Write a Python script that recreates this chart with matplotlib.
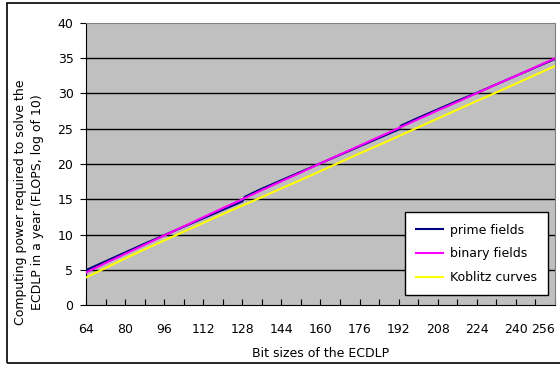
import matplotlib
matplotlib.use('Agg')
from matplotlib import pyplot as plt
from matplotlib.patches import Rectangle

# bit sizes and log10(FLOPS) needed to solve the ECDLP in one year
bits = [64, 72, 80, 88, 96, 104, 112, 120, 128, 136, 144, 152, 160,
        168, 176, 184, 192, 200, 208, 216, 224, 232, 240, 248, 256]
prime_bits = [64, 72, 80, 88, 96, 104, 112, 120, 128, 129, 136, 144, 152, 160,
              168, 176, 184, 192, 193, 200, 208, 216, 224, 232, 240, 248, 256]
prime_fields = [4.95, 6.2, 7.45, 8.7, 9.9, 11.1, 12.3, 13.5, 14.7, 15.35, 16.5, 17.7,
                18.9, 20.1, 21.3, 22.5, 23.7, 24.9, 25.45, 26.55, 27.75, 28.95,
                30.1, 31.3, 32.5, 33.7, 34.9]
binary_fields = [4.6, 5.95, 7.25, 8.55, 9.85, 11.15, 12.45, 13.75, 15.0, 16.3, 17.55,
                 18.8, 20.1, 21.35, 22.6, 23.85, 25.1, 26.35, 27.6, 28.8, 30.05,
                 31.3, 32.5, 33.75, 35.0]
koblitz_curves = [3.9, 5.25, 6.6, 7.9, 9.15, 10.4, 11.65, 12.9, 14.1, 15.3, 16.55,
                  17.75, 19.0, 20.25, 21.5, 22.7, 23.95, 25.2, 26.45, 27.7, 28.95,
                  30.15, 31.4, 32.65, 33.9]

x_labels = list(range(64, 257, 16))
y_labels = list(range(0, 41, 5))

plt.rcParams['font.family'] = ['DejaVu Sans']
fs = 9

fig = plt.figure(figsize=(5.6, 3.66), dpi=100)
ax = fig.add_axes([86/560, 61/366, 469/560, 282/366])
ax.set_facecolor('#C0C0C0')

for y in y_labels[1:-1]:
    ax.axhline(y, color='black', lw=1.0, zorder=1)

ax.plot(prime_bits, prime_fields, color='#000080', lw=1.5, label='prime fields', zorder=3)
ax.plot(bits, binary_fields, color='#FF00FF', lw=1.5, label='binary fields', zorder=4)
ax.plot(bits, koblitz_curves, color='#FFFF00', lw=1.5, label='Koblitz curves', zorder=5)

ax.set_xlim(64, 256)
ax.set_ylim(0, 40)
ax.set_xticks(list(range(64, 257, 8)))
ax.set_xticklabels([str(b) if b in x_labels else '' for b in range(64, 257, 8)])
ax.get_xticklabels()[-1].set_horizontalalignment('right')
ax.set_yticks(y_labels)
ax.tick_params(axis='x', direction='in', length=4, width=0.8, pad=13, labelsize=fs)
ax.tick_params(axis='y', direction='out', length=4, width=0.8, pad=5, labelsize=fs)

for side in ['top', 'right']:
    ax.spines[side].set_color('#808080')
for side in ['left', 'bottom']:
    ax.spines[side].set_color('black')

ax.set_xlabel('Bit sizes of the ECDLP', fontsize=fs, labelpad=8)
fig.text(29/560, 164/366, 'Computing power required to solve the\nECDLP in a year (FLOPS, log of 10)',
         rotation=90, ha='center', va='center', fontsize=fs, linespacing=1.4)

leg = ax.legend(loc='lower right', bbox_to_anchor=(0.985, 0.035), borderaxespad=0,
                fontsize=fs, frameon=True, fancybox=False, edgecolor='black',
                framealpha=1, handlelength=2.2, labelspacing=0.85, borderpad=0.9,
                handletextpad=0.5)
leg.get_frame().set_linewidth(1.0)

fig.patches.append(Rectangle((7/560, 3/366), 1.0, 360/366, transform=fig.transFigure,
                             fill=False, edgecolor='black', lw=1.2))

fig.savefig('out.png', dpi=100)
